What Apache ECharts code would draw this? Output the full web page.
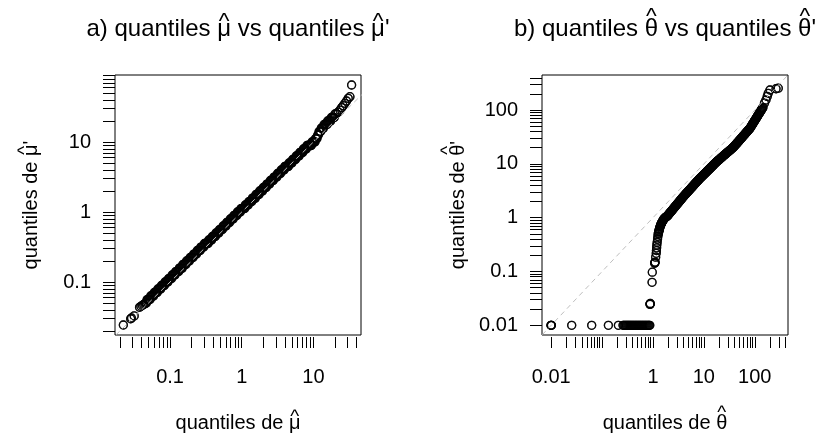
<!DOCTYPE html>
<html><head><meta charset="utf-8">
<script src="https://cdn.jsdelivr.net/npm/echarts@6/dist/echarts.min.js"></script>
<style>html,body{margin:0;padding:0;background:#fff}#c{width:823px;height:441px}</style>
</head><body><div id="c"></div>
<script>
// ---- Panel a: quantiles of mu-hat (x) vs mu-hat' (y) ----
const quantMuX = [0.0223,0.0282,0.0290,0.0316,0.0375,0.0392,0.0410,0.0428,0.0445,
0.0457,0.0468,0.0479,0.0490,0.0501,0.0513,0.0525,0.0537,0.0550,0.0562,0.0575,0.0589,0.0603,0.0617,0.0631,0.0646,0.0661,0.0676,0.0692,0.0708,0.0724,0.0741,0.0759,0.0776,0.0794,0.0813,0.0832,0.0851,0.0871,0.0891,0.0912,0.0933,0.0955,0.0977,
0.100,0.102,0.105,0.107,0.110,0.112,0.115,0.117,0.120,0.123,0.126,0.129,0.132,0.135,0.138,0.141,0.145,0.148,0.151,0.155,0.158,0.162,0.166,0.170,0.174,0.178,0.182,0.186,0.191,0.195,
0.200,0.204,0.209,0.214,0.219,0.224,0.229,0.234,0.240,0.245,0.251,0.257,0.263,0.269,0.275,0.282,0.288,0.295,0.302,0.309,0.316,0.324,0.331,0.339,0.347,0.355,0.363,0.372,0.380,0.389,
0.398,0.407,0.417,0.427,0.437,0.447,0.457,0.468,0.479,0.490,0.501,0.513,0.525,0.537,0.550,0.562,0.575,0.589,0.603,0.617,0.631,0.646,0.661,0.676,0.692,0.708,0.724,0.741,0.759,0.776,
0.794,0.813,0.832,0.851,0.871,0.891,0.912,0.933,0.955,0.977,
1.00,1.02,1.05,1.07,1.10,1.12,1.15,1.17,1.20,1.23,1.26,1.29,1.32,1.35,1.38,1.41,1.45,1.48,1.51,1.55,1.58,1.62,1.66,1.70,1.74,1.78,1.82,1.86,1.91,1.95,
2.00,2.04,2.09,2.14,2.19,2.24,2.29,2.34,2.40,2.45,2.51,2.57,2.63,2.69,2.75,2.82,2.88,2.95,3.02,3.09,3.16,3.24,3.31,3.39,3.47,3.55,3.63,3.72,3.80,3.89,
3.98,4.07,4.17,4.27,4.37,4.47,4.57,4.68,4.79,4.90,5.01,5.13,5.25,5.37,5.50,5.62,5.75,5.89,6.03,6.17,6.31,6.46,6.61,6.76,6.92,7.08,7.24,7.41,7.59,7.76,
7.94,8.13,8.32,8.51,8.71,8.91,9.12,9.33,9.55,9.77,
10.0,10.2,10.5,10.7,11.0,11.2,11.5,11.7,12.0,12.3,12.6,12.9,13.2,13.5,13.8,14.1,14.5,14.8,15.1,15.5,15.8,16.2,16.6,17.0,17.4,17.8,18.2,18.6,19.1,19.5,20.0,
21.0,22.2,23.5,24.8,26.0,27.5,29.0,30.6,32.3,34.1];
const quantMuY = [0.0243,0.0298,0.0306,0.0328,0.0435,0.0450,0.0465,0.0478,0.0488,
0.0501,0.0501,
0.0562,0.0562,0.0562,0.0562,0.0562, 0.0631,0.0631,0.0631,0.0631,0.0631, 0.0708,0.0708,0.0708,0.0708,0.0708,
0.0794,0.0794,0.0794,0.0794,0.0794, 0.0891,0.0891,0.0891,0.0891,0.0891, 0.100,0.100,0.100,0.100,0.100,
0.112,0.112,0.112,0.112,0.112, 0.126,0.126,0.126,0.126,0.126, 0.141,0.141,0.141,0.141,0.141,
0.158,0.158,0.158,0.158,0.158, 0.178,0.178,0.178,0.178,0.178, 0.200,0.200,0.200,0.200,0.200,
0.224,0.224,0.224,0.224,0.224, 0.251,0.251,0.251,0.251,0.251, 0.282,0.282,0.282,0.282,0.282,
0.316,0.316,0.316,0.316,0.316, 0.355,0.355,0.355,0.355,0.355,0.355,
0.398,0.398,0.398,0.398,0.398, 0.447,0.447,0.447,0.447,0.447, 0.501,0.501,0.501,0.501,0.501,
0.562,0.562,0.562,0.562,0.562, 0.631,0.631,0.631,0.631,0.631, 0.708,0.708,0.708,0.708,0.708,
0.794,0.794,0.794,0.794,0.794, 0.891,0.891,0.891,0.891,0.891, 1.00,1.00,1.00,1.00,1.00,
1.12,1.12,1.12,1.12,1.12,1.12,
1.26,1.26,1.26,1.26,1.26, 1.41,1.41,1.41,1.41,1.41, 1.58,1.58,1.58,1.58,1.58,
1.78,1.78,1.78,1.78,1.78, 2.00,2.00,2.00,2.00,2.00, 2.24,2.24,2.24,2.24,2.24,
2.51,2.51,2.51,2.51,2.51, 2.82,2.82,2.82,2.82,2.82, 3.16,3.16,3.16,3.16,3.16,
3.55,3.55,3.55,3.55,3.55, 3.98,3.98,3.98,3.98,3.98,
4.47,4.47,4.47,4.47,4.47,4.47,
5.01,5.01,5.01,5.01,5.01, 5.62,5.62,5.62,5.62,5.62, 6.31,6.31,6.31,6.31,6.31,
7.08,7.08,7.08,7.08,7.08, 7.94,7.94,7.94,7.94,7.94,
8.91,8.91,8.91,8.91,8.91,8.91,8.91,
10.0,10.0,10.0,10.0,10.0,
11.2, 11.2,11.2,12.6,12.6,14.1,14.1,14.1,15.8,15.8,15.8,
15.8, 17.8,17.8,17.8,17.8,17.8, 20.0,20.0,20.0,20.0,20.0, 22.4,22.4,22.4,22.4,22.4,
25.1,
25.5,26.8,28.5,31.0,33.0,35.7,38.5,42.0,44.4,65.2];

// ---- Panel b: quantiles of theta-hat (x) vs theta-hat' (y) ----
const quantThetaX = [0.0099,0.0100,0.0101,0.0253,0.0625,0.133,0.209,0.258,0.270,0.283,0.297,0.311,0.326,0.342,0.358,0.375,
0.393,0.412,0.432,0.453,0.475,0.498,0.522,0.547,0.573,0.601,0.630,0.660,0.692,0.725,0.760,0.797,0.835,0.865,
0.875,0.880,0.885,0.960,0.970,1.08,1.09,1.10,1.13,1.16,1.17,1.18,1.19,1.21,1.23,1.25,
1.27,1.28,1.30,1.31,1.33,1.34,1.36,1.38,1.40,1.42,1.44,1.46,1.48,1.50,1.53,1.55,1.58,1.61,1.64,1.68,1.72,1.76,1.80,1.85,
1.91,1.95,2.00,2.04,2.09,2.14,2.19,2.24,2.29,2.34,2.40,2.45,2.51,2.57,2.63,2.69,2.75,2.82,2.88,2.95,
3.02,3.09,3.16,3.24,3.31,3.39,3.47,3.55,3.63,3.72,3.80,3.89,3.98,4.07,4.17,4.27,4.37,4.47,4.57,4.68,
4.79,4.90,5.01,5.13,5.25,5.37,5.50,5.62,5.75,5.89,6.03,6.17,6.31,6.46,6.61,6.76,6.92,7.08,7.24,7.41,
7.59,7.76,7.94,8.13,8.32,8.51,8.71,8.91,9.12,9.33,9.55,9.77,10.0,10.2,10.5,10.7,11.0,11.2,11.5,11.7,
12.0,12.3,12.6,12.9,13.2,13.5,13.8,14.1,14.5,14.8,15.1,15.5,15.8,16.2,16.6,17.0,17.4,17.8,18.2,18.6,
19.1,19.5,20.0,20.4,20.9,21.4,21.9,22.4,22.9,23.4,24.0,24.5,25.1,25.7,26.3,26.9,27.5,28.2,28.8,29.5,
30.2,30.9,31.6,32.4,33.1,33.9,34.7,35.5,36.3,37.2,38.0,38.9,39.8,40.7,41.7,42.7,43.7,44.7,45.7,46.8,
47.9,49.0,50.1,51.3,52.5,53.7,55.0,56.2,57.5,58.9,60.3,61.7,63.1,64.6,66.1,67.6,69.2,70.8,72.4,74.1,
75.9,77.6,79.4,81.3,83.2,85.1,87.1,89.1,91.2,93.3,95.5,97.7,100,102,105,107,110,112,115,117,
120,123,126,129,132,135,138,141,145,
155,166,176,184,199,262,290];
const quantThetaY = [0.01,0.01,0.01,0.01,0.01,0.01,0.01,0.01,0.01,0.01,0.01,0.01,0.01,0.01,0.01,0.01,
0.01,0.01,0.01,0.01,0.01,0.01,0.01,0.01,0.01,0.01,0.01,0.01,0.01,0.01,0.01,0.01,0.01,0.01,
0.0245,0.0250,0.0255,0.063,0.097,0.142,0.146,0.150,0.185,0.218,0.245,0.275,0.31,0.35,0.40,0.45,
0.50,0.52,0.55,0.57,0.60,0.62,0.65,0.68,0.71,0.73,0.76,0.78,0.80,0.82,0.85,0.87,0.90,0.92,0.95,0.97,1.00,1.01,1.03,1.05,
1.07,1.10,1.13,1.16,1.19,1.22,1.26,1.29,1.32,1.35,1.39,1.43,1.47,1.51,1.55,1.59,1.63,1.67,1.72,1.77,
1.82,1.86,1.91,1.96,2.01,2.06,2.12,2.18,2.24,2.30,2.36,2.42,2.48,2.54,2.61,2.67,2.74,2.80,2.87,2.94,
3.01,3.08,3.16,3.23,3.31,3.39,3.48,3.56,3.65,3.74,3.83,3.92,4.02,4.12,4.22,4.32,4.43,4.54,4.65,4.75,
4.86,4.98,5.11,5.23,5.36,5.48,5.60,5.72,5.85,5.98,6.11,6.24,6.37,6.51,6.65,6.80,6.95,7.10,7.26,7.41,
7.57,7.74,7.91,8.08,8.26,8.44,8.63,8.82,9.02,9.21,9.40,9.61,9.82,10.05,10.3,10.5,10.7,10.95,11.2,11.4,
11.6,11.8,12.0,12.25,12.5,12.75,13.0,13.25,13.5,13.75,14.0,14.3,14.6,14.85,15.1,15.4,15.7,16.0,16.3,16.6,
16.9,17.25,17.6,17.9,18.2,18.6,19.0,19.35,19.7,20.1,20.5,21.0,21.5,22.05,22.6,23.2,23.8,24.35,24.9,25.55,
26.2,26.85,27.5,28.25,29.0,29.7,30.4,31.2,32.0,32.85,33.7,34.5,35.3,36.25,37.2,38.1,39.0,40.0,41.0,42.05,
43.1,44.2,45.3,46.7,48.2,50.0,51.8,53.7,55.6,57.6,59.6,61.8,64.0,66.3,68.6,71.1,73.6,76.3,79.1,81.9,
84.7,87.8,91.0,94.2,97.5,101,105,108.5,112,
135,154,180,205,237,250,256];

// ---- axis ticks / labels ----
const muXTicks = [0.02,0.03,0.04,0.05,0.06,0.07,0.08,0.09,0.1,0.2,0.3,0.4,0.5,0.6,0.7,0.8,0.9,1,2,3,4,5,6,7,8,9,10,20,30,40];
const muYTicks = [0.02,0.03,0.04,0.05,0.06,0.07,0.08,0.09,0.1,0.2,0.3,0.4,0.5,0.6,0.7,0.8,0.9,1,2,3,4,5,6,7,8,9,10,20,30,40,50,60,70,80,90];
const muLabels = [0.1,1,10];
const thetaTicks = [0.01,0.02,0.03,0.04,0.05,0.06,0.07,0.08,0.09,0.1,0.2,0.3,0.4,0.5,0.6,0.7,0.8,0.9,1,2,3,4,5,6,7,8,9,10,20,30,40,50,60,70,80,90,100,200,300,400];
const thetaXLabels = [0.01,1,10,100];
const thetaYLabels = [0.01,0.1,1,10,100];
const identityLine = [0.0001, 10000];

const FONT = 'Liberation Sans';
const chart = echarts.init(document.getElementById('c'), null, {renderer:'canvas'});

function xAx(grid, min, max, ticks, labels){
  return {type:'log', logBase:10, gridIndex:grid, min:min, max:max, offset:2,
    axisLine:{show:false}, splitLine:{show:false},
    axisTick:{show:true, customValues:ticks, length:11, lineStyle:{color:'#000', width:1}},
    axisLabel:{customValues:labels, formatter:v=>String(v), color:'#000', fontFamily:FONT, fontSize:20, margin:30}};
}
function yAx(grid, min, max, ticks, labels){
  return {type:'log', logBase:10, gridIndex:grid, min:min, max:max,
    axisLine:{show:false}, splitLine:{show:false},
    axisTick:{show:true, customValues:ticks, length:12, lineStyle:{color:'#000', width:1}},
    axisLabel:{customValues:labels, formatter:v=>String(v), color:'#000', fontFamily:FONT, fontSize:20, margin:24}};
}
const circle = {color:'rgba(0,0,0,0)', borderColor:'#000', borderWidth:1.3};
const dash = {color:'#BEBEBE', width:1, type:[5,4]};
// open circles; each quantile pair is stroked twice to mimic R's heavy over-plotting
function qq(idx, xs, ys){
  const s = {type:'scatter', xAxisIndex:idx, yAxisIndex:idx, symbol:'circle', symbolSize:8, itemStyle:circle,
    data:xs.map((x,i)=>[x, ys[i]])};
  return [s, Object.assign({}, s)];
}

// text with a hat drawn over selected letters (parts: [text, hatLift])
const mctx = document.createElement('canvas').getContext('2d');
function tw(t, size){ mctx.font = size + 'px "' + FONT + '"'; return mctx.measureText(t).width; }
function hatText(cx, cy, parts, size, rot){
  const full = parts.map(p=>p[0]).join('');
  const W = tw(full, size);
  const children = [{type:'text', x:0, y:0, silent:true,
    style:{text:full, fill:'#000', fontFamily:FONT, fontSize:size, align:'center', verticalAlign:'middle'}}];
  let acc = '';
  parts.forEach(p=>{
    if (p[1]) {
      const hx = -W/2 + tw(acc, size) + tw(p[0], size)/2;
      children.push({type:'text', x:hx, y:-p[1]*size, silent:true,
        style:{text:'^', fill:'#000', fontFamily:FONT, fontSize:size*0.95, align:'center', verticalAlign:'middle'}});
    }
    acc += p[0];
  });
  return {type:'group', x:cx, y:cy, rotation:rot||0, children:children};
}
const MU = ['\u03BC', 0.30], TH = ['\u03B8', 0.50];

chart.setOption({
  animation:false,
  grid:[
    {left:115, top:75, width:246, height:260, show:true, borderColor:'#000', borderWidth:1, backgroundColor:'transparent'},
    {left:542, top:75, width:246, height:260, show:true, borderColor:'#000', borderWidth:1, backgroundColor:'transparent'}
  ],
  xAxis:[xAx(0, 0.01706, 46.1, muXTicks, muLabels), xAx(1, 0.0066, 450, thetaTicks, thetaXLabels)],
  yAxis:[yAx(0, 0.0175, 90.6, muYTicks, muLabels), yAx(1, 0.0066, 450, thetaTicks, thetaYLabels)],
  series:[
    ...qq(0, quantMuX, quantMuY),
    {type:'line', xAxisIndex:0, yAxisIndex:0, showSymbol:false, clip:true, lineStyle:dash, z:5,
      data:identityLine.map(v=>[v,v])},
    ...qq(1, quantThetaX, quantThetaY),
    {type:'line', xAxisIndex:1, yAxisIndex:1, showSymbol:false, clip:true, lineStyle:dash, z:5,
      data:identityLine.map(v=>[v,v])}
  ],
  graphic:[
    hatText(238, 29, [['a) quantiles '],MU,[' vs quantiles '],MU,["'"]], 24),
    hatText(665, 29, [['b) quantiles '],TH,[' vs quantiles '],TH,["'"]], 24),
    hatText(238, 423, [['quantiles de '],MU], 20),
    hatText(665, 423, [['quantiles de '],TH], 20),
    hatText(31, 205, [['quantiles de '],MU,["'"]], 20, Math.PI/2),
    hatText(458, 205, [['quantiles de '],TH,["'"]], 20, Math.PI/2)
  ]
});
</script></body></html>
